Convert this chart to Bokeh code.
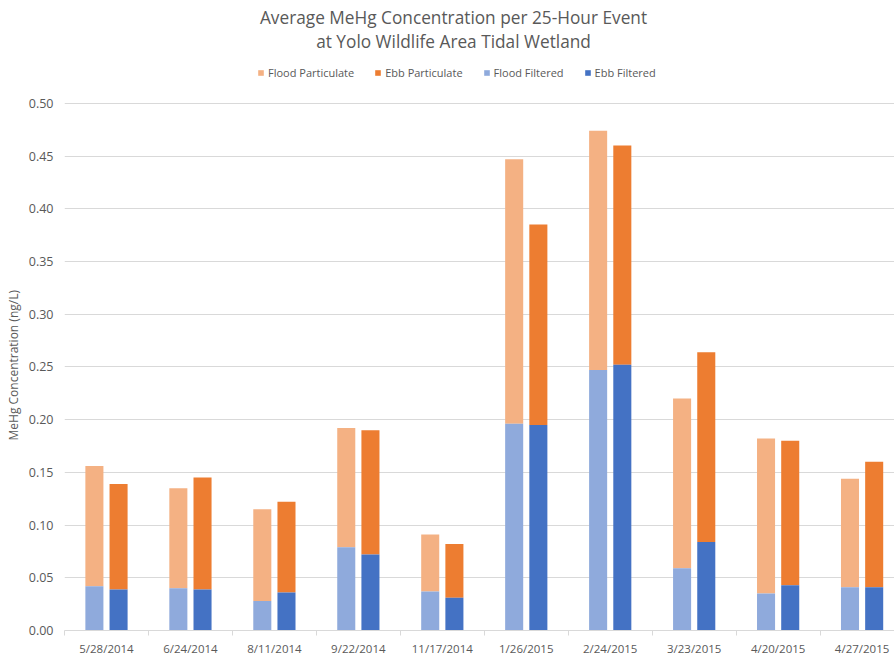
import numpy as np
from bokeh.plotting import figure
from bokeh.models import (ColumnDataSource, Range1d, FixedTicker, NumeralTickFormatter,
                          Legend, LegendItem, Title, Label)
from bokeh.transform import dodge
from bokeh.embed import file_html
from bokeh.resources import INLINE

# ---- data ----
dates = ["5/28/2014", "6/24/2014", "8/11/2014", "9/22/2014", "11/17/2014",
         "1/26/2015", "2/24/2015", "3/23/2015", "4/20/2015", "4/27/2015"]
flood_filtered = [0.042, 0.040, 0.028, 0.079, 0.037, 0.196, 0.247, 0.059, 0.035, 0.041]
flood_particulate = [0.114, 0.095, 0.087, 0.113, 0.054, 0.251, 0.227, 0.161, 0.147, 0.103]
ebb_filtered = [0.039, 0.039, 0.036, 0.072, 0.031, 0.195, 0.252, 0.084, 0.043, 0.041]
ebb_particulate = [0.100, 0.106, 0.086, 0.118, 0.051, 0.190, 0.208, 0.180, 0.137, 0.119]
y_ticks = [0.00, 0.05, 0.10, 0.15, 0.20, 0.25, 0.30, 0.35, 0.40, 0.45, 0.50]
series_names = ["Flood Particulate", "Ebb Particulate", "Flood Filtered", "Ebb Filtered"]
colors = ["#F4B183", "#ED7D31", "#8FAADC", "#4472C4"]
title_lines = ["Average MeHg Concentration per 25-Hour Event",
               "at Yolo Wildlife Area Tidal Wetland"]
y_label = "MeHg Concentration (ng/L)"

TEXT = "#595959"
GRID = "#D9D9D9"
FONT = "Open Sans"

# layout (pixels)
WIDTH, HEIGHT = 894, 658
BORDER_L, BORDER_B = 62, 27
FRAME_H = HEIGHT - BORDER_B          # frame spans from the top of the page to the x axis
DATA_H = 528                         # pixels used by 0 .. 0.50
Y_END = 0.5 * FRAME_H / DATA_H       # extra headroom holds title and legend

pos = np.arange(len(dates)) + 0.5
ff = np.array(flood_filtered)
ef = np.array(ebb_filtered)
src = ColumnDataSource(dict(
    x=pos,
    ff=ff, fp_top=ff + np.array(flood_particulate),
    ef=ef, ep_top=ef + np.array(ebb_particulate),
    zero=np.zeros(len(dates)),
))

p = figure(width=WIDTH, height=HEIGHT, x_range=Range1d(0, 9.886), y_range=Range1d(0, Y_END),
           output_backend="svg", toolbar_location=None, title=None,
           min_border_left=BORDER_L, min_border_right=0, min_border_top=0,
           min_border_bottom=BORDER_B)
p.outline_line_color = None
p.background_fill_color = "white"

W = 0.215
OFF = 0.144
r_fp = p.vbar(x=dodge("x", -OFF), width=W, bottom="ff", top="fp_top", source=src,
              fill_color=colors[0], line_color=None)
r_ep = p.vbar(x=dodge("x", OFF), width=W, bottom="ef", top="ep_top", source=src,
              fill_color=colors[1], line_color=None)
r_ff = p.vbar(x=dodge("x", -OFF), width=W, bottom="zero", top="ff", source=src,
              fill_color=colors[2], line_color=None)
r_ef = p.vbar(x=dodge("x", OFF), width=W, bottom="zero", top="ef", source=src,
              fill_color=colors[3], line_color=None)

# x axis
xa = p.xaxis[0]
xa.ticker = FixedTicker(ticks=list(pos), minor_ticks=list(np.arange(0, len(dates) + 1)))
xa.major_label_overrides = {float(v): d for v, d in zip(pos, dates)}
xa.major_tick_out = 0
xa.major_tick_in = 0
xa.minor_tick_out = 5
xa.minor_tick_in = 0
xa.minor_tick_line_color = GRID
xa.axis_line_color = GRID
xa.major_label_standoff = 5
xa.major_label_text_font = FONT
xa.major_label_text_font_size = "11.5px"
xa.major_label_text_color = TEXT

# y axis
ya = p.yaxis[0]
ya.ticker = FixedTicker(ticks=y_ticks)
ya.formatter = NumeralTickFormatter(format="0.00")
ya.axis_line_color = None
ya.major_tick_line_color = None
ya.minor_tick_line_color = None
ya.major_tick_out = 0
ya.major_tick_in = 0
ya.major_label_standoff = 11
ya.major_label_text_font = FONT
ya.major_label_text_font_size = "12.5px"
ya.major_label_text_color = TEXT

# y axis title, centred on the 0 .. 0.50 span
p.add_layout(Title(text=y_label, align="left", offset=190, standoff=6,
                   vertical_align="middle", text_font=FONT, text_font_size="12px",
                   text_font_style="normal", text_color=TEXT), "left")

p.xgrid.grid_line_color = None
p.ygrid.grid_line_color = GRID
p.ygrid.grid_line_width = 1

legend = Legend(items=[LegendItem(label=n, renderers=[r]) for n, r in
                       zip(series_names, [r_fp, r_ep, r_ff, r_ef])],
                orientation="horizontal", location=(193, FRAME_H - 81),
                glyph_width=7, glyph_height=7, label_standoff=4, spacing=20,
                padding=0, margin=0, border_line_color=None, background_fill_alpha=0,
                label_text_font=FONT, label_text_font_size="11px",
                label_text_color=TEXT, label_height=14)
p.add_layout(legend, "center")

for txt, yy in zip(title_lines, [18, 42]):
    p.add_layout(Label(x=451 - BORDER_L, y=FRAME_H - yy, x_units="screen", y_units="screen",
                       text=txt, text_align="center", text_baseline="middle",
                       text_font=FONT, text_font_size="17.25px", text_color=TEXT))

open("out.html", "w").write(file_html(p, INLINE))
